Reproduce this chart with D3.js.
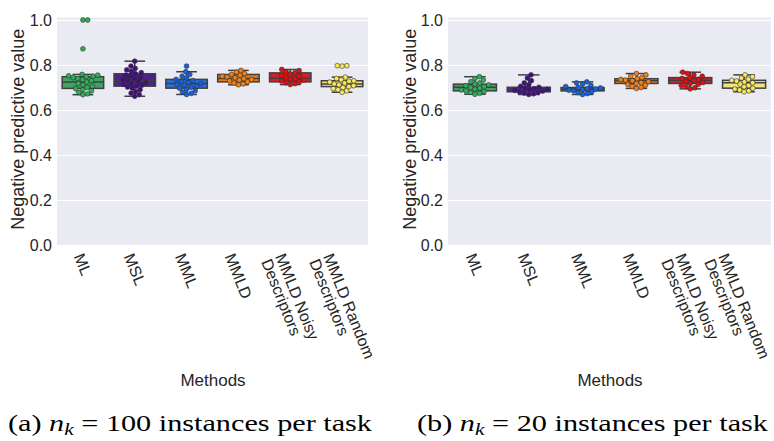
<!DOCTYPE html>
<html><head><meta charset="utf-8">
<script src="https://cdn.jsdelivr.net/npm/d3@7"></script>
<style>
body{margin:0;background:#fff;}
svg{display:block;}
.sans{font-family:"Liberation Sans", Arial, sans-serif;}
.serif{font-family:"Liberation Serif", "Times New Roman", serif;}
</style></head>
<body>
<svg id="c" width="774" height="441"></svg>
<script>
// ---------- DATA ----------
const categories = ["ML", "MSL", "MML", "MMLD", "MMLD Noisy\nDescriptors", "MMLD Random\nDescriptors"];
const yTicks = [0.0, 0.2, 0.4, 0.6, 0.8, 1.0];
const yLabel = "Negative predictive value";
const xLabel = "Methods";
const boxColors = ["#3fa463", "#4d1f8f", "#2a6fd8", "#e47c22", "#d42224", "#f1e47c"];
const pointColors = ["#2fae5b", "#40107f", "#1462e4", "#f57f13", "#e30f12", "#f7e85e"];

// panel (a): n_k = 100
const a_q1  = [0.696, 0.706, 0.697, 0.725, 0.725, 0.704];
const a_med = [0.725, 0.731, 0.718, 0.740, 0.741, 0.716];
const a_q3  = [0.748, 0.761, 0.736, 0.758, 0.765, 0.730];
const a_lo  = [0.668, 0.661, 0.669, 0.712, 0.713, 0.679];
const a_hi  = [0.758, 0.817, 0.770, 0.776, 0.780, 0.746];
const a_ML    = [0.668, 0.672, 0.678, 0.685, 0.690, 0.695, 0.700, 0.706, 0.712, 0.718, 0.725, 0.730, 0.735, 0.740, 0.744, 0.748, 0.750, 0.752, 0.755, 0.758, 0.872, 1.0, 1.0];
const a_MSL   = [0.661, 0.668, 0.675, 0.682, 0.690, 0.697, 0.702, 0.706, 0.710, 0.714, 0.718, 0.722, 0.726, 0.731, 0.735, 0.740, 0.745, 0.750, 0.755, 0.761, 0.766, 0.772, 0.778, 0.785, 0.795, 0.817];
const a_MML   = [0.669, 0.674, 0.680, 0.686, 0.692, 0.697, 0.701, 0.706, 0.711, 0.715, 0.718, 0.722, 0.727, 0.731, 0.736, 0.742, 0.750, 0.758, 0.770, 0.795];
const a_MMLD  = [0.712, 0.716, 0.720, 0.725, 0.729, 0.733, 0.736, 0.740, 0.743, 0.747, 0.750, 0.754, 0.758, 0.762, 0.768, 0.776];
const a_Noisy = [0.713, 0.717, 0.721, 0.725, 0.729, 0.733, 0.737, 0.740, 0.744, 0.749, 0.754, 0.760, 0.765, 0.770, 0.775, 0.780];
const a_Rand  = [0.679, 0.685, 0.690, 0.695, 0.700, 0.704, 0.708, 0.712, 0.716, 0.720, 0.724, 0.728, 0.730, 0.735, 0.740, 0.746, 0.795, 0.797, 0.797];

// panel (b): n_k = 20
const b_q1  = [0.685, 0.681, 0.685, 0.718, 0.718, 0.697];
const b_med = [0.701, 0.692, 0.693, 0.730, 0.732, 0.721];
const b_q3  = [0.715, 0.701, 0.700, 0.739, 0.744, 0.732];
const b_lo  = [0.670, 0.669, 0.669, 0.696, 0.694, 0.681];
const b_hi  = [0.748, 0.756, 0.725, 0.762, 0.768, 0.756];
const b_ML    = [0.670, 0.674, 0.678, 0.682, 0.685, 0.689, 0.693, 0.697, 0.701, 0.704, 0.708, 0.712, 0.715, 0.720, 0.726, 0.733, 0.740, 0.748];
const b_MSL   = [0.669, 0.672, 0.675, 0.678, 0.681, 0.684, 0.687, 0.690, 0.692, 0.695, 0.698, 0.701, 0.705, 0.712, 0.720, 0.730, 0.742, 0.756];
const b_MML   = [0.669, 0.673, 0.677, 0.681, 0.685, 0.688, 0.691, 0.693, 0.695, 0.698, 0.700, 0.704, 0.709, 0.715, 0.720, 0.725];
const b_MMLD  = [0.696, 0.700, 0.705, 0.710, 0.714, 0.718, 0.722, 0.726, 0.730, 0.733, 0.736, 0.739, 0.744, 0.750, 0.756, 0.762];
const b_Noisy = [0.694, 0.699, 0.704, 0.709, 0.714, 0.718, 0.722, 0.727, 0.732, 0.736, 0.740, 0.744, 0.750, 0.756, 0.762, 0.768];
const b_Rand  = [0.681, 0.685, 0.689, 0.693, 0.697, 0.703, 0.709, 0.715, 0.721, 0.725, 0.729, 0.732, 0.737, 0.742, 0.748, 0.756];

const captionA = ["(a) ", "100 instances per task"];
const captionB = ["(b) ", "20 instances per task"];

// ---------- DRAW ----------
const svg = d3.select("#c");

function swarm(values, y, r) {
  const placed = [];
  const order = values.map((v, i) => i).sort((a, b) => values[a] - values[b]);
  const out = new Array(values.length).fill(0);
  order.forEach(i => {
    const py = y(values[i]);
    let best = 0;
    const cands = [0];
    placed.forEach(p => {
      const dy = py - p.y;
      if (Math.abs(dy) < 2 * r) {
        const dx = Math.sqrt(4 * r * r - dy * dy) + 0.01;
        cands.push(p.x + dx, p.x - dx);
      }
    });
    cands.sort((a, b) => Math.abs(a) - Math.abs(b));
    for (const c of cands) {
      const ok = placed.every(p => (p.x - c) ** 2 + (p.y - py) ** 2 >= 4 * r * r - 0.01);
      if (ok) { best = c; break; }
    }
    placed.push({x: best, y: py});
    out[i] = best;
  });
  return out;
}

function panel(x0, x1, q1, med, q3, lo, hi, pts, ylabX, caption, capX0, capX1, methX) {
  const top = 17.5, bottom = 245;
  const y = d3.scaleLinear().domain([0, 1]).range([245, 20]);
  const x = d3.scaleBand().domain(categories).range([x0, x1]).paddingInner(0.2).paddingOuter(0.1);
  const g = svg.append("g");
  g.append("rect").attr("x", x0).attr("y", top).attr("width", x1 - x0).attr("height", bottom - top).attr("fill", "#eaeaf2");
  const ax = g.append("g").attr("transform", `translate(${x0},0)`)
    .call(d3.axisLeft(y).tickValues(yTicks).tickFormat(d3.format(".1f")).tickSize(-(x1 - x0)).tickPadding(5));
  ax.select(".domain").remove();
  ax.attr("font-family", null).attr("font-size", null);
  ax.selectAll(".tick line").attr("stroke", "#fff").attr("stroke-width", 1.1);
  ax.selectAll(".tick text").attr("class", "sans").style("font-size", "16px").attr("fill", "#262626");

  g.append("text").attr("class", "sans").attr("transform", `translate(${ylabX},${(top + bottom) / 2 - 2}) rotate(-90)`)
    .attr("text-anchor", "middle").style("font-size", "18px").attr("fill", "#262626").text(yLabel);

  const edge = "#404040";
  categories.forEach((c, i) => {
    const bx = x(c), bw = x.bandwidth(), cx = bx + bw / 2;
    const cg = g.append("g");
    cg.append("line").attr("x1", cx).attr("x2", cx).attr("y1", y(hi[i])).attr("y2", y(q3[i])).attr("stroke", edge).attr("stroke-width", 1.5);
    cg.append("line").attr("x1", cx).attr("x2", cx).attr("y1", y(q1[i])).attr("y2", y(lo[i])).attr("stroke", edge).attr("stroke-width", 1.5);
    [hi[i], lo[i]].forEach(v => cg.append("line").attr("x1", cx - bw / 4).attr("x2", cx + bw / 4).attr("y1", y(v)).attr("y2", y(v)).attr("stroke", edge).attr("stroke-width", 1.5));
    cg.append("rect").attr("x", bx).attr("width", bw).attr("y", y(q3[i])).attr("height", y(q1[i]) - y(q3[i]))
      .attr("fill", boxColors[i]).attr("stroke", edge).attr("stroke-width", 1.5);
    cg.append("line").attr("x1", bx).attr("x2", bx + bw).attr("y1", y(med[i])).attr("y2", y(med[i])).attr("stroke", edge).attr("stroke-width", 1.5);
    const r = 2.4;
    const offs = swarm(pts[i], y, r);
    cg.selectAll("circle").data(pts[i]).join("circle")
      .attr("cx", (d, j) => cx + offs[j]).attr("cy", d => y(d)).attr("r", r)
      .attr("fill", pointColors[i]).attr("stroke", "#333").attr("stroke-width", 0.6);

    const lines = c.split("\n");
    const tg = g.append("g");
    const t = tg.append("text").attr("class", "sans").attr("transform", "rotate(68)").style("font-size", "16px").attr("fill", "#262626");
    lines.forEach((l, k) => t.append("tspan").attr("x", 0).attr("dy", k === 0 ? "0.8em" : "0.94em").text(l));
    const bb = tg.node().getBBox();
    let tx = cx - (bb.x + bb.width / 2);
    if (tx + bb.x + bb.width > 773) tx = 773 - bb.x - bb.width;
    tg.attr("transform", `translate(${tx},${251 - bb.y})`);
  });

  g.append("text").attr("class", "sans").attr("x", methX).attr("y", 386).attr("text-anchor", "middle")
    .style("font-size", "17px").attr("fill", "#262626").text(xLabel);

  const ct = g.append("text").attr("class", "serif").attr("x", capX0).attr("y", 431)
    .style("font-size", "24px").attr("fill", "#000")
    .attr("textLength", capX1 - capX0).attr("lengthAdjust", "spacingAndGlyphs");
  ct.append("tspan").text(caption[0]);
  ct.append("tspan").attr("font-style", "italic").text("n");
  ct.append("tspan").attr("font-style", "italic").style("font-size", "17px").attr("dy", 4).text("k");
  ct.append("tspan").attr("dy", -4).text(" = " + caption[1]);
}

panel(57, 368, a_q1, a_med, a_q3, a_lo, a_hi, [a_ML, a_MSL, a_MML, a_MMLD, a_Noisy, a_Rand], 24, captionA, 8, 372, 213);
panel(448, 771, b_q1, b_med, b_q3, b_lo, b_hi, [b_ML, b_MSL, b_MML, b_MMLD, b_Noisy, b_Rand], 416, captionB, 417, 768, 610);
</script>
</body></html>
